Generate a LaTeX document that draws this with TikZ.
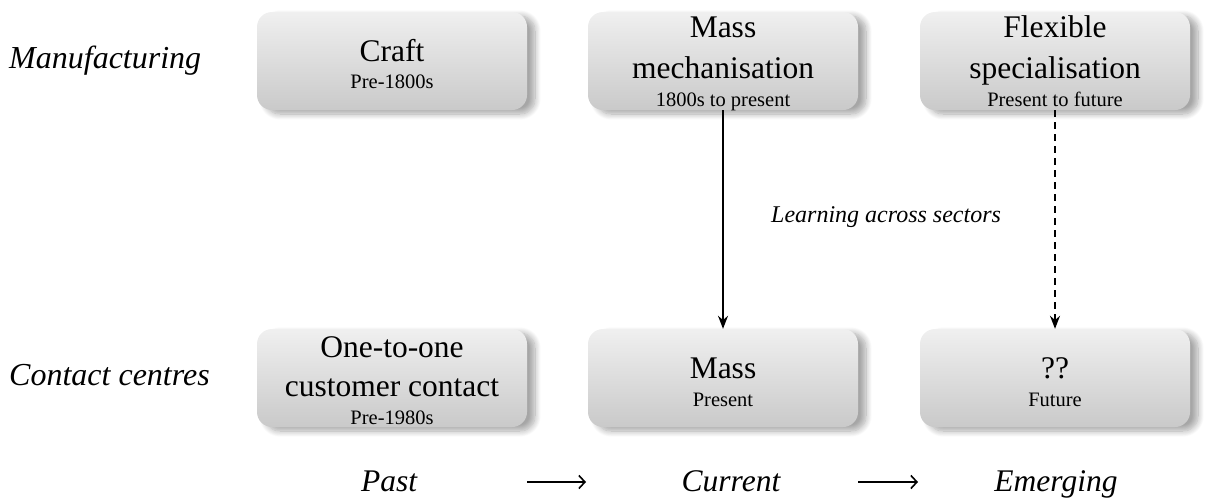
\documentclass[tikz,border=0pt]{standalone}
\usepackage{fontspec}
\setmainfont{Liberation Serif}
\usetikzlibrary{arrows.meta,shadows.blur}
\tikzset{
  box/.style={rounded corners=15pt, minimum width=270pt, minimum height=98pt, inner sep=0pt,
    top color=black!6, bottom color=black!21, draw=none,
    blur shadow={shadow xshift=8pt, shadow yshift=-4pt, shadow blur steps=10, shadow blur radius=6pt, shadow opacity=35}},
  big/.style={font=\fontsize{31.5}{37}\selectfont, inner sep=0pt, anchor=base},
  small/.style={font=\fontsize{20.5}{24}\selectfont, inner sep=0pt, anchor=base},
  side/.style={font=\fontsize{32}{37}\selectfont\itshape, inner sep=0pt, anchor=base west},
  axis/.style={font=\fontsize{31.5}{37}\selectfont\itshape, inner sep=0pt, anchor=base},
  conn/.style={line width=1.6pt, -{Stealth[length=13pt,width=10pt]}},
  timearrow/.style={line width=1.6pt, -{Straight Barb[length=6pt,width=13pt,line width=1.6pt]}}
}
\begin{document}
\begin{tikzpicture}[x=1pt,y=-1pt]
\useasboundingbox (0,0) rectangle (1225,498);
% boxes
\node[box] (craft) at (392,61) {};
\node[box] (mech) at (723,61) {};
\node[box] (flex) at (1055,61) {};
\node[box] (one) at (392,378) {};
\node[box] (mass) at (723,378) {};
\node[box] (fut) at (1055,378) {};
% texts
\node[big] (t1) at (392,61) {Craft};
\node[small] (s1) at (392,88) {Pre-1800s};
\node[big] (t2a) at (723,37) {Mass};
\node[big] (t2b) at (723,78) {mechanisation};
\node[small] (s2) at (723,106) {1800s to present};
\node[big] (t3a) at (1055,37) {Flexible};
\node[big] (t3b) at (1055,78) {specialisation};
\node[small] (s3) at (1055,106) {Present to future};
\node[big] (t4a) at (392,357) {One-to-one};
\node[big] (t4b) at (392,396) {customer contact};
\node[small] (s4) at (392,424) {Pre-1980s};
\node[big] (t5) at (723,378) {Mass};
\node[small] (s5) at (723,406) {Present};
\node[big] (t6) at (1055,378) {??};
\node[small] (s6) at (1055,406) {Future};
% side labels
\node[side] (manu) at (9,68) {Manufacturing};
\node[side] (cc) at (9,385) {Contact centres};
% time axis
\node[axis] (past) at (389,491) {Past};
\node[axis] (curr) at (731,491) {Current};
\node[axis] (emer) at (1056,491) {Emerging};
\coordinate (a1s) at (527,482);
\coordinate (a1e) at (586,482);
\coordinate (a2s) at (858,482);
\coordinate (a2e) at (918,482);
\draw[timearrow] (a1s) -- (a1e);
\draw[timearrow] (a2s) -- (a2e);
% connectors
\draw[conn] (mech.south) -- (mass.north);
\draw[conn, dash pattern=on 7pt off 5pt] (flex.south) -- (fut.north);
\node[font=\fontsize{24}{28}\selectfont\itshape, inner sep=0pt, anchor=base west] (learn) at (771,222) {Learning across sectors};
\end{tikzpicture}
\end{document}
